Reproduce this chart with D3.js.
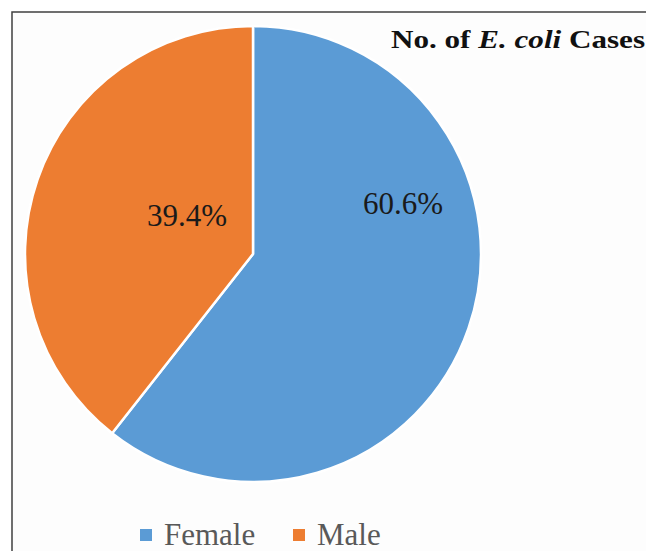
<!DOCTYPE html>
<html>
<head>
<meta charset="utf-8">
<script src="https://cdn.jsdelivr.net/npm/d3@7"></script>
<style>
  html, body { margin: 0; padding: 0; background: #fff; }
  svg { display: block; }
</style>
</head>
<body>
<svg id="chart" width="646" height="551"></svg>
<script>
var categories = ["Female", "Male"];
var values = [60.6, 39.4];
var colors = ["#5b9bd5", "#ed7d31"];

var width = 646, height = 551;
var svg = d3.select("#chart");
var serif = "'Liberation Serif', 'Times New Roman', Times, serif";

// frame (only top and left edges are visible in the crop)
svg.append("rect")
  .attr("x", 12).attr("y", 12)
  .attr("width", 700).attr("height", 600)
  .attr("fill", "#fdfdfd")
  .attr("stroke", "#404040")
  .attr("stroke-width", 1.5);

var cx = 253, cy = 254, radius = 228;

var pie = d3.pie().sort(null).value(function(d) { return d; });
var arc = d3.arc().innerRadius(0).outerRadius(radius);
var arcs = pie(values);

var g = svg.append("g").attr("transform", "translate(" + cx + "," + cy + ")");

g.selectAll("path")
  .data(arcs)
  .enter().append("path")
  .attr("d", arc)
  .attr("fill", function(d, i) { return colors[i]; })
  .attr("stroke", "#fff")
  .attr("stroke-width", 2.5)
  .attr("stroke-linejoin", "round");

// percentage labels, placed like the original (upper part of each slice)
var labelOffset = [[150, -40], [-66, -28]];
g.selectAll("text.pct")
  .data(arcs)
  .enter().append("text")
  .attr("class", "pct")
  .attr("x", function(d, i) { return labelOffset[i][0]; })
  .attr("y", function(d, i) { return labelOffset[i][1]; })
  .attr("text-anchor", "middle")
  .attr("font-family", serif)
  .attr("font-size", 31)
  .attr("fill", "#1a1a1a")
  .text(function(d) { return d.data.toFixed(1) + "%"; });

// title
var title = svg.append("text")
  .attr("x", 391).attr("y", 48)
  .attr("font-family", serif)
  .attr("font-size", 25)
  .attr("font-weight", "bold")
  .attr("fill", "#111")
  .attr("textLength", 254)
  .attr("lengthAdjust", "spacingAndGlyphs");
title.append("tspan").text("No. of ");
title.append("tspan").attr("font-style", "italic").text("E.  coli");
title.append("tspan").text(" Cases");

// legend
var legendX = [140, 293];
var legend = svg.selectAll("g.legend")
  .data(categories)
  .enter().append("g")
  .attr("class", "legend")
  .attr("transform", function(d, i) { return "translate(" + legendX[i] + ",529)"; });

legend.append("rect")
  .attr("width", 12).attr("height", 12)
  .attr("fill", function(d, i) { return colors[i]; });

legend.append("text")
  .attr("x", 24).attr("y", 16)
  .attr("font-family", serif)
  .attr("font-size", 31)
  .attr("fill", "#595959")
  .text(function(d) { return d; });
</script>
</body>
</html>
